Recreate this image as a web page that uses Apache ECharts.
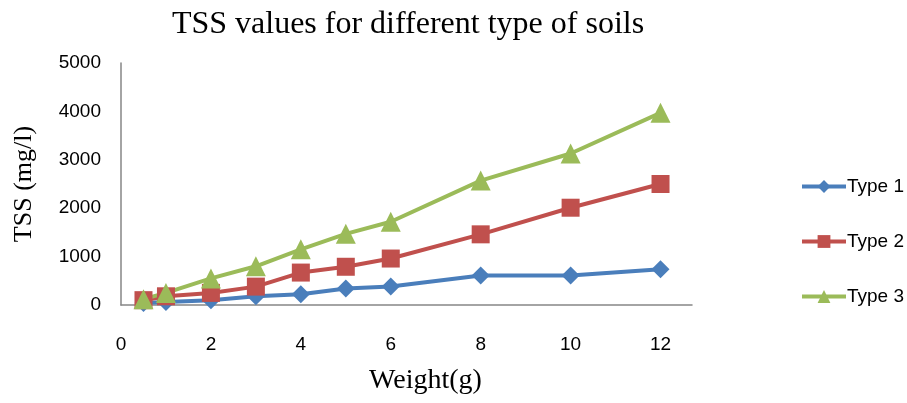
<!DOCTYPE html>
<html>
<head>
<meta charset="utf-8">
<script src="https://cdn.jsdelivr.net/npm/echarts@6/dist/echarts.min.js"></script>
<style>
  html, body { margin: 0; padding: 0; background: #fff; }
  #chart { width: 907px; height: 403px; }
</style>
</head>
<body>
<div id="chart"></div>
<script>
const weights = [0.5, 1, 2, 3, 4, 5, 6, 8, 10, 12];
const type1 = [40, 60, 100, 180, 220, 340, 380, 610, 610, 740];
const type2 = [100, 180, 250, 380, 670, 790, 960, 1460, 2010, 2500];
const type3 = [120, 250, 550, 800, 1150, 1470, 1720, 2570, 3130, 3970];
const seriesNames = ["Type 1", "Type 2", "Type 3"];

const chart = echarts.init(document.getElementById("chart"));

const pairs = (ys) => weights.map((w, i) => [w, ys[i]]);
const narrow = "'Liberation Sans Narrow', 'Arial Narrow', sans-serif";
const serif = "'Liberation Serif', 'Times New Roman', serif";

const mk = (name, ys, color, symbol, size) => ({
  name: name,
  type: "line",
  data: pairs(ys),
  symbol: symbol,
  symbolSize: size,
  itemStyle: { color: color },
  lineStyle: { color: color, width: 4 },
  animation: false,
});

chart.setOption({
  title: {
    text: "TSS values for different type of soils",
    left: 403,
    top: 4,
    textAlign: "center",
    textStyle: { fontFamily: serif, fontSize: 32, fontWeight: "normal", color: "#000" },
  },
  grid: { left: 121, right: 215, top: 63, bottom: 98 },
  legend: {
    orient: "vertical",
    left: 795,
    top: 172,
    itemGap: 36,
    itemWidth: 44,
    itemHeight: 16,
    lineStyle: { width: 4 },
    textStyle: { fontFamily: narrow, fontSize: 19, color: "#000", padding: [0, 0, 0, -4] },
    data: seriesNames,
  },
  xAxis: {
    type: "value",
    min: 0,
    max: 12.7,
    interval: 2,
    name: "Weight(g)",
    nameLocation: "middle",
    nameGap: 62,
    nameTextStyle: { fontFamily: serif, fontSize: 28, color: "#000", padding: [0, 0, 0, 38] },
    axisLine: { lineStyle: { color: "#868686", width: 1.5 } },
    axisTick: { show: false },
    splitLine: { show: false },
    axisLabel: {
      margin: 30,
      fontFamily: narrow,
      fontSize: 19,
      color: "#000",
      formatter: (v) => (v % 2 === 0 ? String(v) : ""),
    },
  },
  yAxis: {
    type: "value",
    min: 0,
    max: 5000,
    interval: 1000,
    name: "TSS (mg/l)",
    nameLocation: "middle",
    nameGap: 84,
    nameTextStyle: { fontFamily: serif, fontSize: 26, color: "#000" },
    axisLine: { show: true, lineStyle: { color: "#868686", width: 1.5 } },
    axisTick: { show: false },
    splitLine: { show: false },
    axisLabel: { margin: 20, fontFamily: narrow, fontSize: 19, color: "#000", formatter: (v) => String(v) },
  },
  series: [
    mk("Type 1", type1, "#4A7EBB", "diamond", 18),
    mk("Type 2", type2, "#C0504D", "rect", 18),
    mk("Type 3", type3, "#9BBB59", "triangle", 20),
  ],
});
</script>
</body>
</html>
